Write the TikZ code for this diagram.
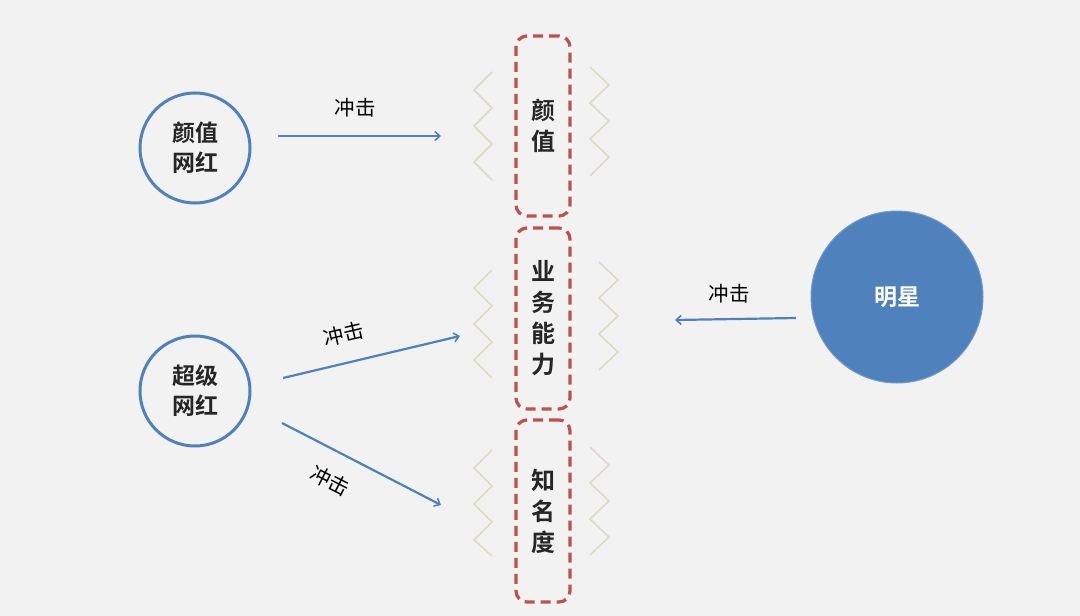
\documentclass[tikz,border=0pt]{standalone}
\usepackage{fontspec}
\newfontfamily\cjk{Noto Sans CJK SC}
\newfontfamily\cjkb{Noto Sans CJK SC Bold}
\usetikzlibrary{arrows.meta}
\definecolor{bg}{HTML}{F2F2F2}
\definecolor{blu}{HTML}{4F81BD}
\definecolor{redd}{HTML}{C0504D}
\definecolor{zig}{HTML}{DDD9C3}
\definecolor{txt}{HTML}{262626}
\tikzset{
  ring/.style={circle,draw=blu,line width=3pt,minimum size=110pt,inner sep=0pt,align=center,font=\cjkb\fontsize{23}{30}\selectfont,text=txt},
  star/.style={circle,fill=blu,draw=blu!80!white,line width=1pt,minimum size=172pt,inner sep=0pt,font=\cjkb\fontsize{23}{30}\selectfont,text=white},
  dbox/.style={draw=redd,line width=3.2pt,dash pattern=on 10pt off 6pt,rounded corners=11pt,minimum width=54pt,inner sep=0pt,align=center,font=\cjkb\fontsize{24}{31}\selectfont,text=txt},
  imp/.style={draw=blu,line width=2.2pt,-{Straight Barb[length=5pt,width=9pt,line width=1.6pt]}},
  lbl/.style={font=\cjk\fontsize{20.5}{22}\selectfont,text=black,inner sep=1pt},
  zz/.style={draw=zig,line width=1.6pt,line join=miter}
}
\begin{document}
\begin{tikzpicture}[x=1pt,y=-1pt]
\fill[bg] (0,0) rectangle (1080,616);
\useasboundingbox (0,0) rectangle (1080,616);
% boxes
\node[dbox,minimum height=180pt] (b1) at (543,126) {颜\\值};
\node[dbox,minimum height=181pt] (b2) at (543,318.5) {业\\务\\能\\力};
\node[dbox,minimum height=182pt] (b3) at (543,511) {知\\名\\度};
% zigzags
\draw[zz] (492,72) -- (474,90) -- (492,108) -- (474,126) -- (492,144) -- (474,162) -- (492,180);
\draw[zz] (590,67) -- (609,85) -- (590,103) -- (609,121) -- (590,139) -- (609,157) -- (590,176);
\draw[zz] (492,270) -- (474,288) -- (492,306) -- (474,324) -- (492,342) -- (474,360) -- (492,378);
\draw[zz] (599,262) -- (618,280) -- (599,298) -- (618,316) -- (599,334) -- (618,352) -- (599,370);
\draw[zz] (492,450) -- (474,468) -- (492,486) -- (474,504) -- (492,522) -- (474,540) -- (492,556);
\draw[zz] (590,447) -- (609,465) -- (590,483) -- (609,501) -- (590,519) -- (609,537) -- (590,555);
% circles
\node[ring] (c1) at (195,148) {颜值\\网红};
\node[ring] (c2) at (195,391) {超级\\网红};
\node[star] (c3) at (897,297) {明星};
% arrow coordinates
\coordinate (a1s) at (278,136); \coordinate (a1e) at (441,136);
\coordinate (a2s) at (283,378); \coordinate (a2e) at (460,336);
\coordinate (a3s) at (282,423); \coordinate (a3e) at (441,505);
\coordinate (a4s) at (796,318); \coordinate (a4e) at (675,320);
\draw[imp] (a1s) -- (a1e);
\draw[imp] (a2s) -- (a2e);
\draw[imp] (a3s) -- (a3e);
\draw[imp] (a4s) -- (a4e);
\node[lbl] (l1) at (355,108) {冲击};
\node[lbl,rotate=13] (l2) at (344,334) {冲击};
\node[lbl,rotate=-27] (l3) at (330,481) {冲击};
\node[lbl] (l4) at (729,294) {冲击};
\end{tikzpicture}
\end{document}
